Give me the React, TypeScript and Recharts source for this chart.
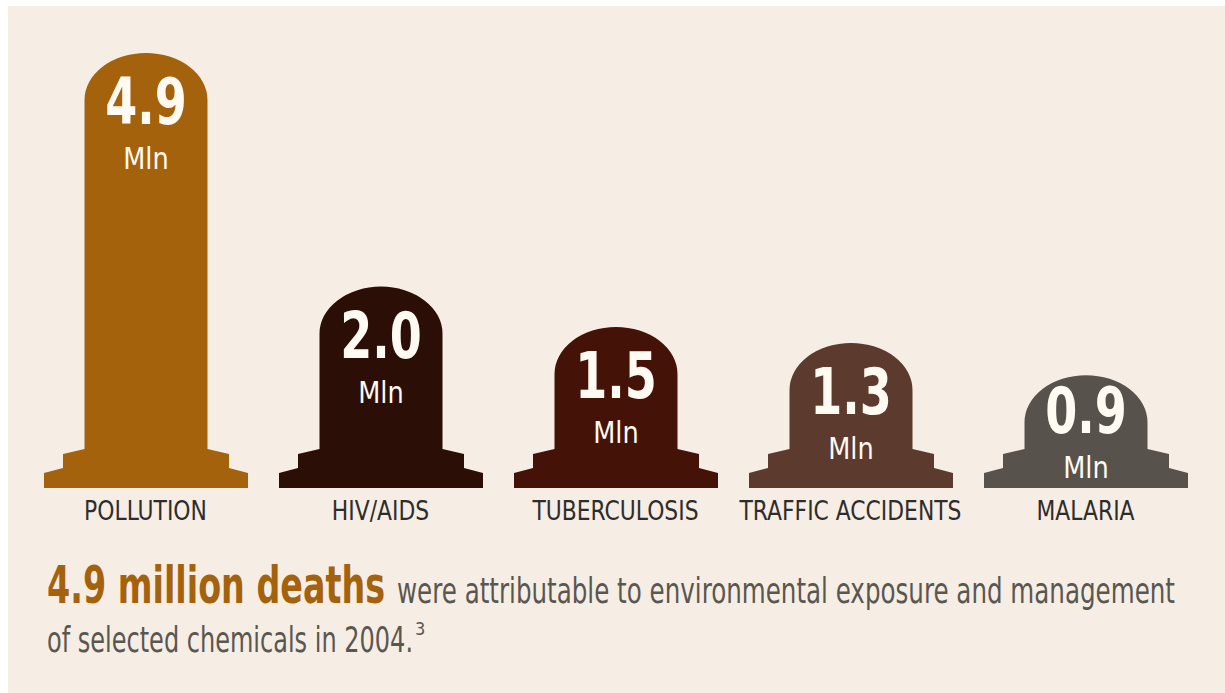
import React from 'react';
import { BarChart, Bar, XAxis, YAxis, Cell, LabelList } from 'recharts';

const causes = ['POLLUTION', 'HIV/AIDS', 'TUBERCULOSIS', 'TRAFFIC ACCIDENTS', 'MALARIA'];
const deaths = [4.9, 2.0, 1.5, 1.3, 0.9];
const unit = 'Mln';

const stoneColors = ['#a4620d', '#2b0e05', '#451207', '#5c3a2d', '#57534c'];

const data = causes.map((cause, i) => ({ cause, deaths: deaths[i] }));

const FONT = '"DejaVu Sans Condensed", "DejaVu Sans", sans-serif';
const W = 1217;
const H = 540;
const PANEL_H = 687;
const M = { top: 47, right: 22, left: 20, bottom: 0 };
const XAXIS_H = 58;
const BASE_Y = H - M.bottom - XAXIS_H;

// tombstone: rounded top, two steps at the foot
const Tombstone = (props: any) => {
    const { x, y, width, fill } = props;
    const b = BASE_Y;
    const body = 40.5;
    const step = 19;
    const ry = 47;
    const r = width - 2 * body;
    const d = [
        `M${x},${b}`,
        `L${x},${b - 15}`,
        `L${x + step},${b - 20}`,
        `L${x + step},${b - 34}`,
        `L${x + body},${b - 39}`,
        `L${x + body},${y + ry}`,
        `A${r / 2} ${ry} 0 0 1 ${x + width - body},${y + ry}`,
        `L${x + width - body},${b - 39}`,
        `L${x + width - step},${b - 34}`,
        `L${x + width - step},${b - 20}`,
        `L${x + width},${b - 15}`,
        `L${x + width},${b}`,
        'Z',
    ].join(' ');
    return <path d={d} fill={fill} />;
};

// value + unit; squeezed upward on short stones so "Mln" stays above the foot
const StoneLabel = (props: any) => {
    const { x, y, width, value } = props;
    const cx = x + width / 2;
    const unitY = Math.min(y + 116, BASE_Y - 10);
    const numY = Math.min(y + 72, unitY - 45);
    return (
        <g fontFamily={FONT} fill="#fffaf2" textAnchor="middle">
            <text transform={`translate(${cx},${numY}) scale(0.8,1)`} fontSize={64} fontWeight="bold">
                {Number(value).toFixed(1)}
            </text>
            <text transform={`translate(${cx},${unitY}) scale(0.92,1)`} fontSize={31}>{unit}</text>
        </g>
    );
};

const CauseTick = (props: any) => {
    const { x, payload } = props;
    return (
        <text
            transform={`translate(${x},${BASE_Y + 32}) scale(0.9,1)`}
            textAnchor="middle"
            fontFamily={FONT}
            fontSize={27}
            fill="#2f2d2b"
        >
            {payload.value}
        </text>
    );
};

// condensed text: squeeze horizontally to a given on-screen width
const Squeezed = ({ x, y, w, s, children, ...rest }: any) => (
    <text transform={`translate(${x},${y}) scale(${s},1)`} textLength={w / s} lengthAdjust="spacingAndGlyphs" {...rest}>
        {children}
    </text>
);

export default function App() {
    return (
        <div style={{ position: 'absolute', left: 8, top: 6, width: W, height: PANEL_H, background: '#f6eee4', overflow: 'hidden' }}>
            <BarChart width={W} height={H} data={data} margin={M} barSize={204}>
                <XAxis dataKey="cause" axisLine={false} tickLine={false} tickSize={0} height={XAXIS_H} tick={<CauseTick />} interval={0} />
                <YAxis hide domain={[-0.5, 4.9]} />
                <Bar dataKey="deaths" shape={<Tombstone />} isAnimationActive={false}>
                    {data.map((d, i) => (
                        <Cell key={d.cause} fill={stoneColors[i]} />
                    ))}
                    <LabelList dataKey="deaths" content={<StoneLabel />} />
                </Bar>
            </BarChart>
            <svg width={W} height={PANEL_H - H} style={{ position: 'absolute', left: 0, top: H }} fontFamily={FONT}>
                <Squeezed x={39} y={57} w={338} s={0.72} fontSize={52} fontWeight="bold" fill="#a4620d">
                    4.9 million deaths
                </Squeezed>
                <Squeezed x={389} y={57} w={778} s={0.78} fontSize={35} fill="#5a5751">
                    were attributable to environmental exposure and management
                </Squeezed>
                <Squeezed x={39} y={106} w={366} s={0.76} fontSize={35} fill="#5a5751">
                    of selected chemicals in 2004.
                </Squeezed>
                <text x={407} y={89} fontSize={18} fill="#5a5751">3</text>
            </svg>
        </div>
    );
}
